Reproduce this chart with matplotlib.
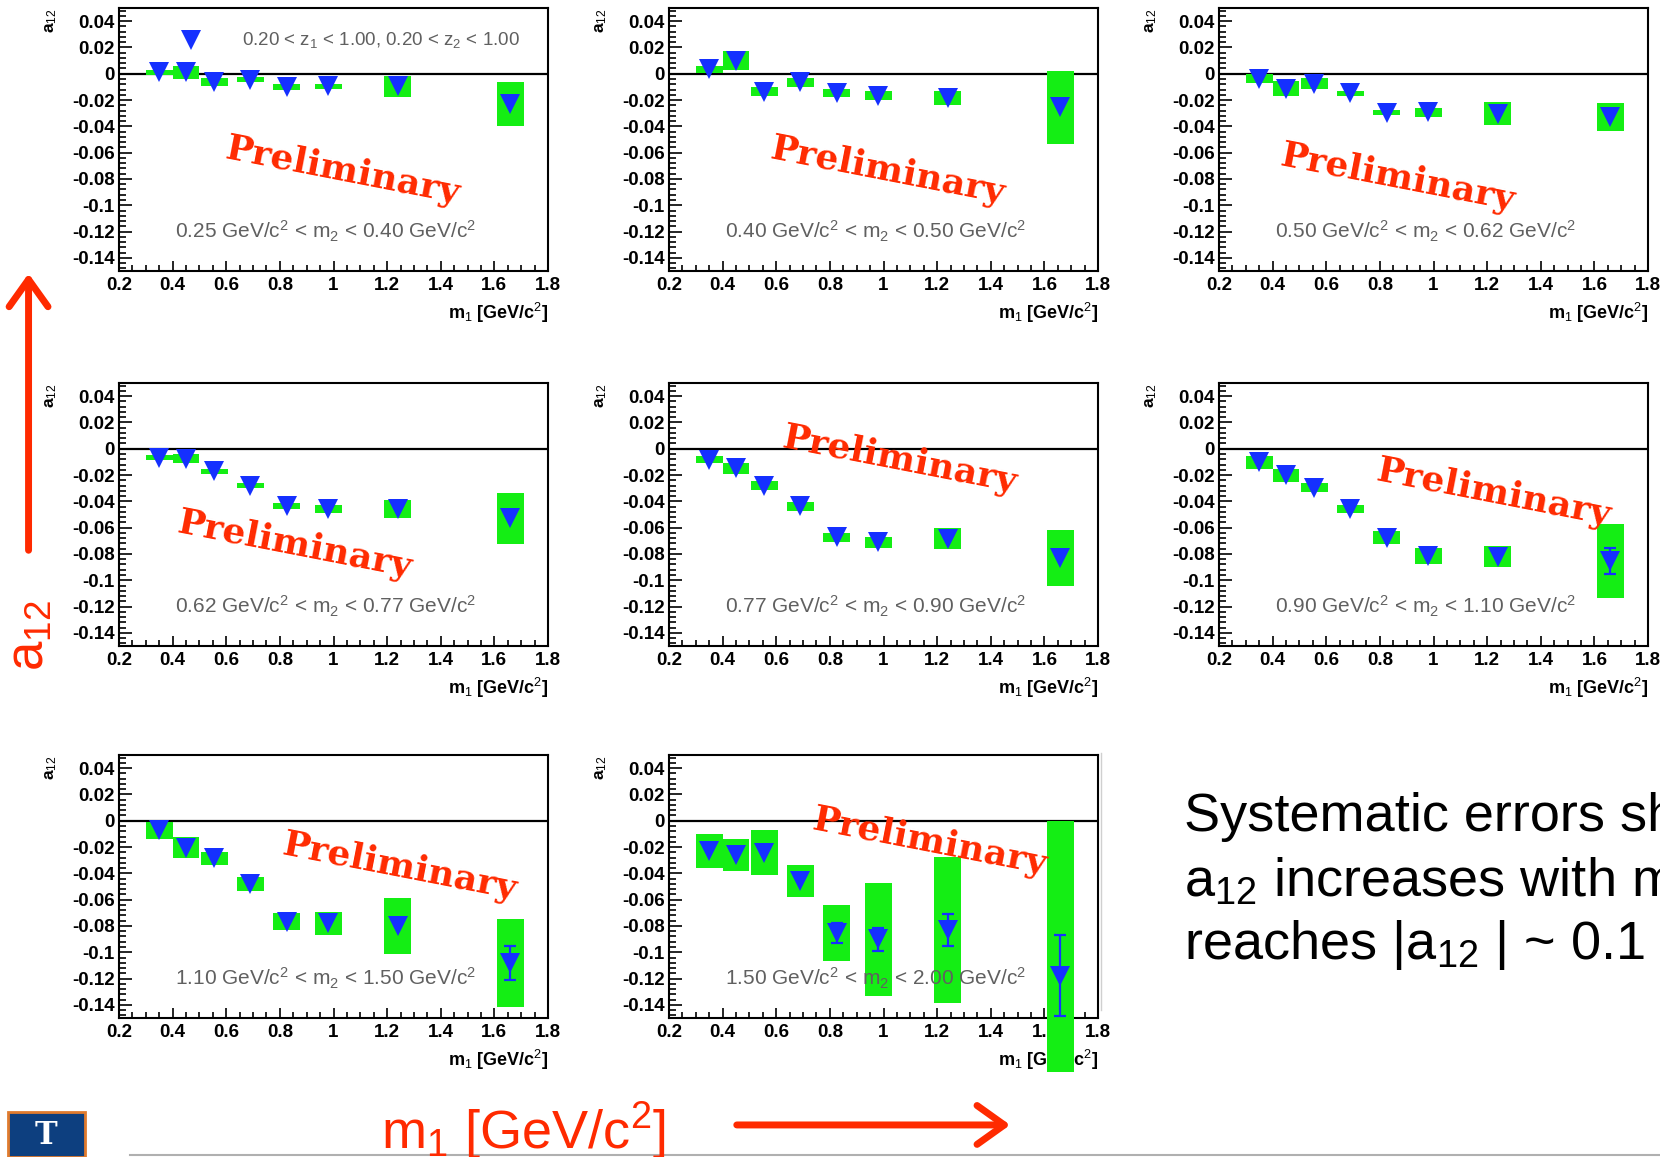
import numpy as np
import matplotlib
matplotlib.use('Agg')
import matplotlib.pyplot as plt
from matplotlib.patches import FancyArrowPatch, Rectangle
from matplotlib.lines import Line2D
from matplotlib.ticker import MultipleLocator

plt.rcParams['font.family'] = ['Liberation Sans', 'DejaVu Sans']
plt.rcParams['mathtext.fontset'] = 'custom'
plt.rcParams['mathtext.rm'] = 'Liberation Sans'
plt.rcParams['mathtext.it'] = 'Liberation Sans:italic'
plt.rcParams['mathtext.bf'] = 'Liberation Sans:bold'

# m1 bin centres (same for every m2 bin)
m1 = [0.35, 0.45, 0.555, 0.69, 0.825, 0.98, 1.24, 1.66]
m2_edges = ['0.25', '0.40', '0.50', '0.62', '0.77', '0.90', '1.10', '1.50', '2.00']

# a12 values and systematic (box half heights) per m2 bin
a12_025_040 = [0.001, 0.001, -0.006, -0.0045, -0.010, -0.0096, -0.0094, -0.0228]
sys_025_040 = [0.002, 0.0048, 0.003, 0.002, 0.0025, 0.002, 0.008, 0.0166]
a12_040_050 = [0.0033, 0.010, -0.0135, -0.0065, -0.0145, -0.0168, -0.0185, -0.0256]
sys_040_050 = [0.0028, 0.007, 0.0037, 0.0032, 0.003, 0.0034, 0.0055, 0.0277]
a12_050_062 = [-0.0037, -0.0113, -0.0075, -0.015, -0.0295, -0.0294, -0.0303, -0.0331]
sys_050_062 = [0.0034, 0.006, 0.004, 0.0018, 0.0017, 0.0034, 0.0089, 0.0105]
a12_062_077 = [-0.0068, -0.0075, -0.017, -0.028, -0.0435, -0.046, -0.0459, -0.053]
sys_062_077 = [0.0018, 0.0035, 0.0019, 0.0018, 0.0023, 0.0029, 0.0069, 0.0193]
a12_077_090 = [-0.0082, -0.015, -0.028, -0.0438, -0.0673, -0.0712, -0.0684, -0.0833]
sys_077_090 = [0.0025, 0.004, 0.0034, 0.0034, 0.0035, 0.0041, 0.0078, 0.0213]
a12_090_110 = [-0.0103, -0.0203, -0.0296, -0.0459, -0.0676, -0.0814, -0.0822, -0.0855]
sys_090_110 = [0.005, 0.0048, 0.0035, 0.0032, 0.0047, 0.0063, 0.0079, 0.028]
stat_090_110 = [0, 0, 0, 0, 0, 0, 0, 0.01]
a12_110_150 = [-0.0074, -0.0205, -0.0287, -0.048, -0.0768, -0.078, -0.0802, -0.1082]
sys_110_150 = [0.0063, 0.0078, 0.0046, 0.0054, 0.0065, 0.0088, 0.0213, 0.0336]
stat_110_150 = [0, 0, 0, 0, 0, 0, 0, 0.0128]
a12_150_200 = [-0.023, -0.0261, -0.0243, -0.0461, -0.0853, -0.0902, -0.0831, -0.1177]
sys_dn_150_200 = [0.0132, 0.0124, 0.017, 0.0122, 0.0213, 0.0427, 0.0558, 0.073]
sys_up_150_200 = [0.0132, 0.0124, 0.017, 0.0122, 0.0213, 0.0427, 0.0558, 0.1172]
stat_150_200 = [0, 0, 0, 0, 0.0075, 0.0088, 0.012, 0.031]
no_stat = [0] * 8

# stray point in the first panel
extra_m1 = [0.47]
extra_a12 = [0.026]

panels = [
    (a12_025_040, sys_025_040, sys_025_040, no_stat),
    (a12_040_050, sys_040_050, sys_040_050, no_stat),
    (a12_050_062, sys_050_062, sys_050_062, no_stat),
    (a12_062_077, sys_062_077, sys_062_077, no_stat),
    (a12_077_090, sys_077_090, sys_077_090, no_stat),
    (a12_090_110, sys_090_110, sys_090_110, stat_090_110),
    (a12_110_150, sys_110_150, sys_110_150, stat_110_150),
    (a12_150_200, sys_dn_150_200, sys_up_150_200, stat_150_200),
]

# where the "Preliminary" stamp sits in each panel (axes fraction)
prelim_pos = [(0.52, 0.38), (0.51, 0.38), (0.417, 0.354), (0.41, 0.384),
              (0.538, 0.707), (0.639, 0.582), (0.653, 0.574), (0.608, 0.669)]

green = '#14ee14'
blue = '#1530ff'
red = '#ff2a00'

W, H = 1660, 1157
fig = plt.figure(figsize=(W / 100, H / 100), dpi=100)
fig.patch.set_facecolor('white')

col_x = [119, 669, 1219]
row_y = [8, 383, 755]
pw, ph = 429, 263

xticks = np.round(np.arange(0.2, 1.81, 0.2), 2)
yticks = np.round(np.arange(-0.14, 0.041, 0.02), 2)

for i, (a12, sdn, sup, stat) in enumerate(panels):
    r, c = divmod(i, 3)
    ax = fig.add_axes([col_x[c] / W, 1 - (row_y[r] + ph) / H, pw / W, ph / H])
    ax.set_xlim(0.2, 1.8)
    ax.set_ylim(-0.15, 0.05)

    ax.axhline(0, color='black', lw=1.6, zorder=1.5)
    bars = ax.bar(m1, np.add(sdn, sup), bottom=np.subtract(a12, sdn), width=0.1,
                  color=green, linewidth=0, zorder=3.2)
    for b in bars:
        b.set_clip_on(False)
    stat = np.array(stat)
    has = stat > 0
    if has.any():
        ax.errorbar(np.array(m1)[has], np.array(a12)[has], yerr=stat[has], fmt='none',
                    ecolor=blue, elinewidth=1.6, capsize=4, capthick=1.6, zorder=3.5)
    ax.plot(m1, a12, 'v', color=blue, ms=14, mew=0, zorder=4)
    if i == 0:
        ax.plot(extra_m1, extra_a12, 'v', color=blue, ms=14, mew=0, zorder=4)
        ax.text(0.66, 0.0215, '0.20 < z$_{1}$ < 1.00, 0.20 < z$_{2}$ < 1.00',
                fontsize=13.5, color='#606060', va='baseline', ha='left', zorder=5)

    ax.text(0.97, -0.1255,
            f'{m2_edges[i]} GeV/c$^{{2}}$ < m$_{{2}}$ < {m2_edges[i + 1]} GeV/c$^{{2}}$',
            fontsize=15, color='#606060', ha='center', va='baseline', zorder=5)

    px, py = prelim_pos[i]
    ax.text(px, py, 'Preliminary', transform=ax.transAxes, fontsize=26,
            family='DejaVu Serif', fontweight='bold', color=red, rotation=-11,
            rotation_mode='anchor', ha='center', va='center', zorder=6)

    ax.set_xticks(xticks, [f'{v + 0.0:g}' for v in xticks], fontweight='bold', fontsize=13.5)
    ax.set_yticks(yticks, [f'{v + 0.0:g}' for v in yticks], fontweight='bold', fontsize=13.5)
    ax.xaxis.set_minor_locator(MultipleLocator(0.05))
    ax.yaxis.set_minor_locator(MultipleLocator(0.004))
    ax.tick_params(axis='x', which='major', direction='in', length=7, width=1.2, pad=4)
    ax.tick_params(axis='x', which='minor', direction='in', length=4, width=1.2)
    ax.tick_params(axis='y', which='major', direction='in', length=9, width=1.2, pad=3)
    ax.tick_params(axis='y', which='minor', direction='in', length=5, width=1.2)
    for s in ax.spines.values():
        s.set_linewidth(1.5)

    ax.text(1.0, -0.16, 'm$_{1}$ [GeV/c$^{2}$]', transform=ax.transAxes, ha='right',
            va='center', fontsize=13, fontweight='bold', zorder=3)
    ax.text(-0.158, 1.0, 'a$_{12}$', transform=ax.transAxes, rotation=90, ha='center',
            va='top', fontsize=12.5, fontweight='bold')

# slide decorations
fig.add_artist(FancyArrowPatch((0.0172, 0.522), (0.0172, 0.766), transform=fig.transFigure,
                               arrowstyle='->,head_length=0.7,head_width=0.5',
                               mutation_scale=28, lw=5, color=red))
fig.add_artist(FancyArrowPatch((734 / W, 0.0277), (1013 / W, 0.0277), transform=fig.transFigure,
                               arrowstyle='->,head_length=0.7,head_width=0.5',
                               mutation_scale=28, lw=5, color=red))
fig.text(0.018, 0.451, 'a$_{12}$', rotation=90, fontsize=38, color=red, ha='center', va='center')
fig.text(381 / W, 1 - 1149 / H, 'm$_{1}$ [GeV/c$^{2}$]', fontsize=39, color=red,
         ha='left', va='baseline')

fig.text(1184 / W, 1 - 831 / H, 'Systematic errors sh', fontsize=39, ha='left', va='baseline')
fig.text(1184 / W, 1 - 897 / H, 'a$_{12}$ increases with m', fontsize=39, ha='left', va='baseline')
fig.text(1184 / W, 1 - 959 / H, 'reaches |a$_{12}$ | ~ 0.1', fontsize=39, ha='left', va='baseline')

fig.add_artist(Rectangle((8 / W, 0), 77 / W, 45 / H, transform=fig.transFigure,
                         facecolor='#0d3f7f', edgecolor='#e07b2e', lw=2))
fig.text(46 / W, 0.019, 'T', color='white', fontsize=22, family='DejaVu Serif',
         fontweight='bold', ha='center', va='center')
fig.add_artist(Line2D([130 / W, 1], [0.0018, 0.0018], transform=fig.transFigure,
                      color='#b0b0b0', lw=1.5))
fig.add_artist(Line2D([1101 / W, 1101 / W], [1 - 1010 / H, 1 - 753 / H],
                      transform=fig.transFigure, color='#d0d0d0', lw=1))

fig.savefig('out.png', dpi=100)
